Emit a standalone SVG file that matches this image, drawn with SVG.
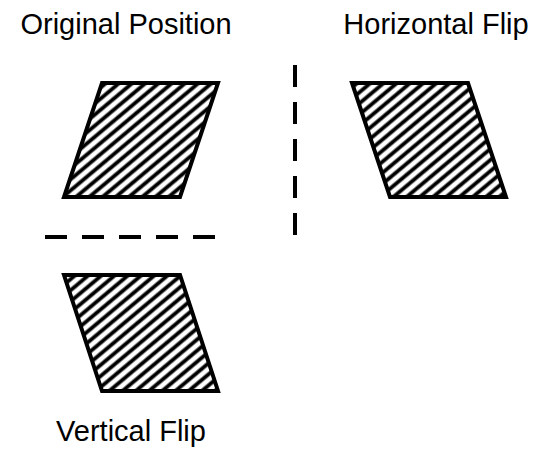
<svg xmlns="http://www.w3.org/2000/svg" width="549" height="455" viewBox="0 0 549 455">
  <style>
    .label { font-family: "Liberation Sans", Arial, sans-serif; font-size: 29px; fill: #000; text-anchor: middle; }
    .shape { fill: url(#hatch); stroke: #000; stroke-width: 4; stroke-linejoin: miter; }
    .axis { stroke: #000; stroke-width: 4; stroke-dasharray: 22 15; fill: none; }
  </style>
  <defs>
    <pattern id="hatch" patternUnits="userSpaceOnUse" width="8.5" height="8.5" patternTransform="rotate(-40)">
      <rect width="8.5" height="8.5" fill="#fff"/>
      <line x1="0" y1="4.25" x2="8.5" y2="4.25" stroke="#000" stroke-width="3.8"/>
    </pattern>
  </defs>
  <rect width="549" height="455" fill="#fff"/>
  <g id="original">
    <polygon class="shape" points="102,83 218,83 180,197 64,197"/>
    <text class="label" x="126" y="34">Original Position</text>
  </g>
  <g id="horizontal-flip">
    <polygon class="shape" points="352,83 468,83 506,197 390,197"/>
    <text class="label" x="436" y="34">Horizontal Flip</text>
  </g>
  <g id="vertical-flip">
    <polygon class="shape" points="64,275 180,275 218,391 102,391"/>
    <text class="label" x="131" y="441">Vertical Flip</text>
  </g>
  <g id="connectors">
    <line class="axis" x1="45" y1="237" x2="216" y2="237"/>
    <line class="axis" x1="295" y1="65" x2="295" y2="237"/>
  </g>
</svg>
